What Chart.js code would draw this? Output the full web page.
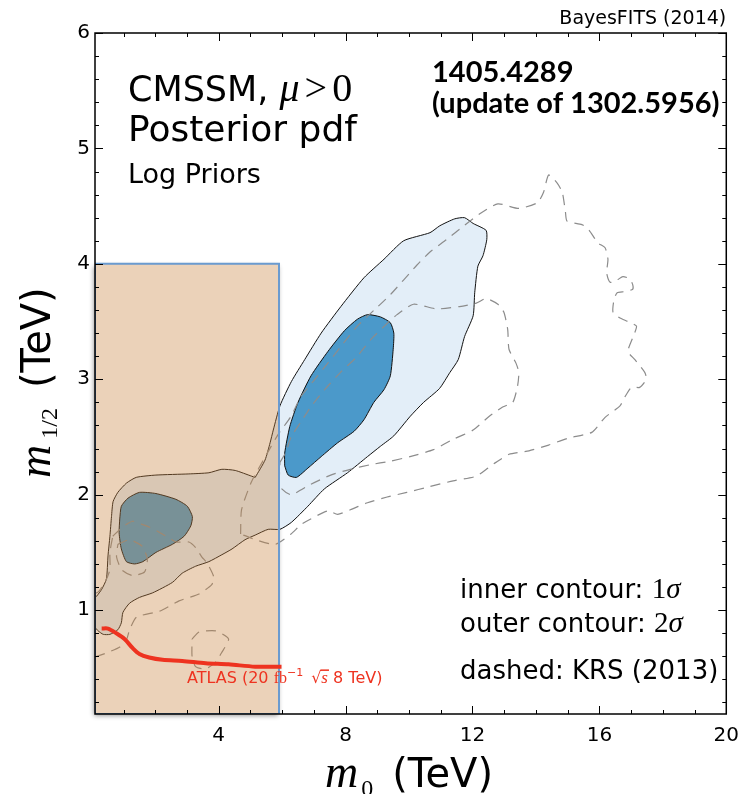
<!DOCTYPE html>
<html>
<head>
<meta charset="utf-8">
<title>CMSSM posterior pdf</title>
<script src="https://cdn.jsdelivr.net/npm/chart.js@4.4.1/dist/chart.umd.min.js"></script>
<style>
  html, body { margin: 0; padding: 0; background: #fff; }
  #wrap { width: 749px; height: 794px; position: relative; }
</style>
</head>
<body>
<div id="wrap"><canvas id="posterior"></canvas></div>
<script>
// axis ticks (TeV)
const xTickValues = [4, 8, 12, 16, 20];
const yTickValues = [1, 2, 3, 4, 5, 6];

// contours as [m0, m1/2] pairs in TeV
const outer2sigma = [
  [5.15, 2.15], [5.46, 2.30], [5.62, 2.45], [5.72, 2.56], [5.93, 2.77], [6.29, 2.98], [6.71, 3.17],
  [7.23, 3.40], [7.85, 3.63], [8.58, 3.88], [9.21, 4.04], [9.83, 4.20], [10.66, 4.27], [10.97, 4.33],
  [11.44, 4.39], [11.75, 4.40], [12.02, 4.35], [12.43, 4.29], [12.45, 4.21], [12.33, 4.07], [12.17, 3.98],
  [12.07, 3.75], [12.02, 3.55], [11.75, 3.37], [11.55, 3.17], [11.29, 3.06], [10.96, 2.92], [10.46, 2.80],
  [10.04, 2.68], [9.52, 2.51], [9.10, 2.42], [8.69, 2.33], [8.06, 2.19], [7.33, 2.05], [6.81, 1.90],
  [6.29, 1.76], [5.93, 1.70], [5.56, 1.70], [5.15, 1.65], [4.83, 1.61], [4.42, 1.53], [4.10, 1.48],
  [3.69, 1.42], [3.27, 1.38], [2.85, 1.32], [2.54, 1.24], [1.92, 1.15], [1.50, 1.11], [1.19, 1.06],
  [0.98, 0.98], [0.93, 0.89], [0.82, 0.83], [0.57, 0.79], [0.36, 0.79], [0.20, 0.82], [0.10, 0.85],
  [-0.22, 0.96], [-0.22, 1.09], [0.10, 1.11], [0.15, 1.12], [0.31, 1.18], [0.46, 1.27], [0.51, 1.47],
  [0.57, 1.64], [0.62, 1.81], [0.67, 1.94], [0.82, 2.02], [1.09, 2.10], [1.40, 2.15], [2.02, 2.17],
  [3.06, 2.18], [3.69, 2.19], [4.10, 2.22], [4.52, 2.21], [5.04, 2.16], [5.15, 2.15]
];
const inner1sigma = [
  [6.08, 2.25], [6.08, 2.36], [6.24, 2.59], [6.50, 2.80], [6.91, 3.03], [7.44, 3.24], [7.96, 3.42],
  [8.37, 3.52], [8.69, 3.56], [9.10, 3.54], [9.41, 3.49], [9.52, 3.40], [9.50, 3.26], [9.41, 3.03],
  [9.21, 2.91], [8.89, 2.80], [8.58, 2.65], [8.27, 2.55], [7.75, 2.45], [7.23, 2.33], [6.81, 2.23],
  [6.45, 2.15], [6.19, 2.17], [6.08, 2.25]
];
const inner1sigmaLow = [
  [0.88, 1.79], [0.93, 1.90], [1.14, 1.97], [1.50, 2.02], [2.02, 2.01], [2.65, 1.96], [3.01, 1.90],
  [3.17, 1.81], [3.12, 1.73], [2.91, 1.64], [2.54, 1.57], [2.02, 1.50], [1.61, 1.42], [1.35, 1.40],
  [1.09, 1.42], [0.93, 1.53], [0.86, 1.67], [0.88, 1.79]
];

// KRS (2013) contours, dashed
const krsOuter = [
  [4.69, 1.66], [4.72, 1.87], [5.03, 2.11], [5.47, 2.33], [5.87, 2.52], [6.28, 2.68], [6.59, 2.85],
  [7.03, 3.00], [7.44, 3.14], [7.84, 3.28], [8.37, 3.46], [8.90, 3.60], [9.40, 3.73], [10.25, 3.99],
  [10.65, 4.10], [11.18, 4.21], [11.59, 4.30], [12.21, 4.43], [12.80, 4.52], [13.46, 4.48], [14.05, 4.53],
  [14.24, 4.62], [14.40, 4.77], [14.67, 4.70], [14.83, 4.62], [14.93, 4.45], [14.98, 4.37], [15.45, 4.34],
  [15.65, 4.30], [15.96, 4.18], [16.18, 4.14], [16.27, 4.04], [16.23, 3.92], [16.34, 3.84], [16.56, 3.86],
  [16.74, 3.89], [16.96, 3.87], [17.05, 3.82], [17.05, 3.78], [16.81, 3.76], [16.56, 3.75], [16.46, 3.69],
  [16.43, 3.58], [16.65, 3.53], [16.90, 3.50], [17.17, 3.46], [17.05, 3.36], [16.90, 3.24], [17.12, 3.17],
  [17.43, 3.06], [17.48, 3.00], [17.27, 2.93], [17.01, 2.93], [16.81, 2.85], [16.65, 2.77], [16.18, 2.67],
  [15.76, 2.54], [15.02, 2.49], [14.40, 2.43], [13.78, 2.38], [13.15, 2.35], [12.74, 2.28], [12.53, 2.24],
  [12.12, 2.16], [11.39, 2.12], [10.65, 2.07], [9.93, 2.02], [9.31, 1.98], [8.69, 1.93], [8.15, 1.87],
  [7.75, 1.83], [7.44, 1.86], [6.90, 1.79], [6.59, 1.74], [6.28, 1.66], [5.78, 1.57], [5.16, 1.61],
  [4.69, 1.66]
];
const krsInner = [
  [5.93, 2.28], [6.12, 2.37], [6.28, 2.50], [6.59, 2.63], [6.90, 2.76], [7.34, 2.91], [7.84, 3.06],
  [8.37, 3.20], [8.78, 3.34], [9.22, 3.46], [9.62, 3.56], [10.14, 3.65], [10.87, 3.61], [11.59, 3.63],
  [12.12, 3.66], [12.43, 3.70], [12.80, 3.65], [12.99, 3.58], [13.11, 3.43], [13.15, 3.26], [13.37, 3.14],
  [13.46, 3.06], [13.42, 2.94], [13.27, 2.80], [12.95, 2.76], [12.53, 2.68], [12.02, 2.56], [11.39, 2.48],
  [10.77, 2.39], [10.03, 2.33], [9.40, 2.29], [8.78, 2.26], [8.15, 2.22], [7.53, 2.17], [6.90, 2.09],
  [6.28, 2.00], [5.93, 2.07], [5.93, 2.28]
];
const krsLowLeft = [
  [0.66, 1.64], [0.97, 1.72], [1.28, 1.77], [1.50, 1.75], [1.81, 1.72], [2.22, 1.66], [2.66, 1.59],
  [3.06, 1.59], [3.28, 1.54], [3.47, 1.46], [3.63, 1.41], [3.84, 1.29], [3.78, 1.22], [3.38, 1.14],
  [2.75, 1.08], [2.13, 0.99], [1.41, 0.94], [1.19, 0.83], [1.10, 0.75], [0.88, 0.68], [0.47, 0.63],
  [0.16, 0.60], [-0.22, 0.57], [-0.22, 1.18], [0.16, 1.15], [0.41, 1.24], [0.57, 1.35], [0.57, 1.50],
  [0.66, 1.64]
];
const krsLowIsland = [
  [0.82, 1.57], [1.19, 1.61], [1.60, 1.55], [1.75, 1.44], [1.66, 1.33], [1.28, 1.30], [0.94, 1.35],
  [0.78, 1.46], [0.82, 1.57]
];
const krsLowSmall = [
  [3.16, 0.75], [3.38, 0.81], [3.90, 0.82], [4.31, 0.75], [4.09, 0.63], [3.90, 0.55], [3.59, 0.49],
  [3.27, 0.51], [3.16, 0.60], [3.16, 0.75]
];

// ATLAS 20 fb^-1 limit
const atlasLimit = [
  [0.31, 0.84], [0.51, 0.84], [0.77, 0.80], [1.03, 0.75], [1.29, 0.67], [1.50, 0.62], [1.81, 0.59],
  [2.23, 0.57], [2.85, 0.56], [3.59, 0.54], [4.31, 0.53], [5.15, 0.51], [5.98, 0.51]
];

// excluded box
const boxM0 = [0.1, 5.9];
const boxM12 = [0.1, 4.0];

const pts = arr => arr.map(([x, y]) => ({ x, y }));
const boxPts = [
  { x: boxM0[0], y: boxM12[0] }, { x: boxM0[1], y: boxM12[0] },
  { x: boxM0[1], y: boxM12[1] }, { x: boxM0[0], y: boxM12[1] }, { x: boxM0[0], y: boxM12[0] }
];

const SANS = '"DejaVu Sans"';
const SERIF = '"Liberation Serif"';
const RED = '#ee3320';

const contour = (data, fillColor, order) => ({
  data: pts(data), showLine: true, pointRadius: 0, tension: 0.2,
  fill: 'shape', backgroundColor: fillColor, borderColor: '#111', borderWidth: 1, order
});
const dashed = (data) => ({
  data: pts(data), showLine: true, pointRadius: 0, tension: 0.2, fill: false,
  borderColor: '#8c8c8c', borderWidth: 1.2, borderDash: [10, 7], order: 8
});

// write a row of text pieces one after another
function drawRuns(ctx, x, y, runs, color) {
  ctx.fillStyle = color || '#000';
  ctx.textAlign = 'left';
  ctx.textBaseline = 'alphabetic';
  for (const r of runs) {
    ctx.font = r.font;
    x += r.dx || 0;
    ctx.fillText(r.text, x, y + (r.dy || 0));
    const w = ctx.measureText(r.text).width;
    if (r.bar) ctx.fillRect(x - 1, y - 14, w + 2, 1.5);
    x += w;
  }
}

const frame = {
  id: 'frame',
  beforeDatasetsDraw(chart) {
    // soft shadow around the excluded box, kept outside of it
    const { ctx, width, height, scales: { x, y } } = chart;
    const l = x.getPixelForValue(boxM0[0]), r = x.getPixelForValue(boxM0[1]);
    const t = y.getPixelForValue(boxM12[1]), b = y.getPixelForValue(boxM12[0]);
    ctx.save();
    ctx.beginPath();
    ctx.rect(0, 0, width, height);
    ctx.rect(l, t, r - l, b - t);
    ctx.clip('evenodd');
    ctx.shadowColor = 'rgba(0,0,0,0.45)';
    ctx.shadowBlur = 5;
    ctx.shadowOffsetX = 4000 - 1;
    ctx.shadowOffsetY = 2;
    ctx.fillStyle = '#000';
    ctx.fillRect(l - 4000, t, r - l, b - t);
    ctx.restore();
  },
  afterDatasetsDraw(chart) {
    const { ctx, chartArea: a, scales: { x, y } } = chart;
    ctx.save();
    ctx.strokeStyle = '#000';
    ctx.lineWidth = 1;
    ctx.beginPath();
    for (let v = 1; v <= 20; v++) {
      const px = Math.round(x.getPixelForValue(v)) + 0.5;
      const len = v % 4 === 0 ? 8 : 4;
      ctx.moveTo(px, a.bottom); ctx.lineTo(px, a.bottom - len);
      ctx.moveTo(px, a.top); ctx.lineTo(px, a.top + len);
    }
    for (let i = 1; i <= 30; i++) {
      const py = Math.round(y.getPixelForValue(i / 5)) + 0.5;
      const len = i % 5 === 0 ? 8 : 4;
      ctx.moveTo(a.left, py); ctx.lineTo(a.left + len, py);
      ctx.moveTo(a.right, py); ctx.lineTo(a.right - len, py);
    }
    ctx.stroke();
    ctx.lineWidth = 1.5;
    ctx.strokeRect(a.left, a.top, a.right - a.left, a.bottom - a.top);
    ctx.restore();
  },
  afterDraw(chart) {
    const { ctx, chartArea: a, scales: { x, y } } = chart;
    ctx.save();
    ctx.textAlign = 'right';
    ctx.fillStyle = '#000';
    ctx.font = '19px ' + SANS;
    ctx.fillText('BayesFITS (2014)', a.right, 24);

    drawRuns(ctx, 128, 101, [
      { text: 'CMSSM, ', font: '35px ' + SANS },
      { text: 'μ', font: 'italic 40px ' + SERIF },
      { text: '>', font: '40px ' + SERIF, dx: 5 },
      { text: '0', font: '40px ' + SERIF, dx: 5 }
    ]);
    drawRuns(ctx, 128, 141, [{ text: 'Posterior pdf', font: '36px ' + SANS }]);
    drawRuns(ctx, 128, 183, [{ text: 'Log Priors', font: '27px ' + SANS }]);

    drawRuns(ctx, 432, 82, [{ text: '1405.4289', font: 'bold 29px Lato' }]);
    drawRuns(ctx, 432, 113, [{ text: '(update of 1302.5956)', font: 'bold 29px Lato' }]);

    drawRuns(ctx, 460, 598, [
      { text: 'inner contour: ', font: '26px ' + SANS },
      { text: '1', font: '29px ' + SERIF },
      { text: 'σ', font: 'italic 29px ' + SERIF }
    ]);
    drawRuns(ctx, 460, 632, [
      { text: 'outer contour: ', font: '26px ' + SANS },
      { text: '2', font: '29px ' + SERIF },
      { text: 'σ', font: 'italic 29px ' + SERIF }
    ]);
    drawRuns(ctx, 460, 679, [{ text: 'dashed: KRS (2013)', font: '26px ' + SANS }]);

    drawRuns(ctx, x.getPixelForValue(3.0), y.getPixelForValue(0.365), [
      { text: 'ATLAS (20 ', font: '16px ' + SANS },
      { text: 'fb', font: '16px ' + SERIF },
      { text: '−1', font: '11px ' + SANS, dy: -7 },
      { text: '√', font: '16px ' + SANS, dx: 8 },
      { text: 's', font: 'italic 17px ' + SERIF, bar: true },
      { text: ' 8 TeV)', font: '16px ' + SANS }
    ], RED);

    // axis titles
    drawRuns(ctx, 325, 787, [
      { text: 'm', font: 'italic 46px ' + SERIF },
      { text: '0', font: '24px ' + SERIF, dx: 3, dy: 9 },
      { text: '(TeV)', font: '40px ' + SANS, dx: 19 }
    ]);
    ctx.translate(50, 478);
    ctx.rotate(-Math.PI / 2);
    drawRuns(ctx, 0, 0, [
      { text: 'm', font: 'italic 46px ' + SERIF },
      { text: '1/2', font: '24px ' + SERIF, dx: 6, dy: 7 },
      { text: '(TeV)', font: '40px ' + SANS, dx: 20 }
    ]);
    ctx.restore();
  }
};

Chart.defaults.font.family = 'DejaVu Sans';
Chart.defaults.color = '#000';

new Chart(document.getElementById('posterior').getContext('2d'), {
  type: 'scatter',
  data: {
    datasets: [
      contour(outer2sigma, '#e3eef8', 10),
      contour(inner1sigma, '#4b99ca', 9),
      contour(inner1sigmaLow, '#4b99ca', 9),
      dashed(krsOuter),
      dashed(krsInner),
      dashed(krsLowLeft),
      dashed(krsLowIsland),
      dashed(krsLowSmall),
      {
        data: boxPts, showLine: true, pointRadius: 0, fill: 'shape',
        backgroundColor: 'rgba(200,130,60,0.36)', borderColor: '#6a9bd0', borderWidth: 2, order: 5
      },
      {
        data: pts(atlasLimit), showLine: true, pointRadius: 0, tension: 0.3, fill: false,
        borderColor: RED, borderWidth: 4, borderCapStyle: 'butt', order: 1
      }
    ]
  },
  options: {
    responsive: true,
    maintainAspectRatio: false,
    animation: false,
    devicePixelRatio: 1,
    layout: { padding: { top: 33, right: 17, left: 0, bottom: 0 } },
    plugins: { legend: { display: false }, tooltip: { enabled: false } },
    scales: {
      x: {
        type: 'linear', min: 0.1, max: 20,
        afterBuildTicks: s => { s.ticks = xTickValues.map(v => ({ value: v })); },
        afterFit: s => { s.height = 80; },
        grid: { display: false, drawTicks: false },
        border: { display: false },
        ticks: { font: { size: 20 }, padding: 10, maxRotation: 0, autoSkip: false }
      },
      y: {
        type: 'linear', min: 0.1, max: 6,
        afterBuildTicks: s => { s.ticks = yTickValues.map(v => ({ value: v })); },
        afterFit: s => { s.width = 95; },
        grid: { display: false, drawTicks: false },
        border: { display: false },
        ticks: { font: { size: 20 }, padding: 5, autoSkip: false }
      }
    }
  },
  plugins: [frame]
});
</script>
</body>
</html>
